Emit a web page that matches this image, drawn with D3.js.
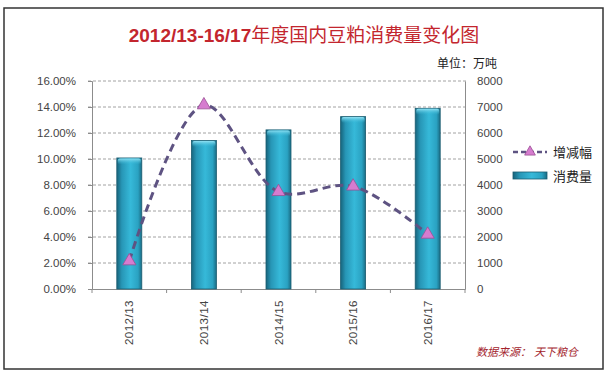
<!DOCTYPE html>
<html>
<head>
<meta charset="utf-8">
<script src="https://cdn.jsdelivr.net/npm/d3@7/dist/d3.min.js"></script>
<style>
  body { margin: 0; background: #fff; }
  svg text { font-family: "Liberation Sans", Arial, "Noto Sans CJK SC", sans-serif; }
</style>
</head>
<body>
<div id="chart"></div>
<script>
// data
var seasons = ["2012/13", "2013/14", "2014/15", "2015/16", "2016/17"];
var consumption = [5040, 5710, 6120, 6630, 6950];   // 万吨
var changeRate = [0.0215, 0.1415, 0.0748, 0.079, 0.042];
var leftTicks = [0, 0.02, 0.04, 0.06, 0.08, 0.10, 0.12, 0.14, 0.16];
var rightTicks = [0, 1000, 2000, 3000, 4000, 5000, 6000, 7000, 8000];

var W = 608, H = 376;
var margin = {top: 81, left: 92, right: 143, bottom: 87};
var width = W - margin.left - margin.right,
    height = H - margin.top - margin.bottom;

var svg = d3.select("#chart").append("svg")
    .attr("width", W)
    .attr("height", H);

// frame
svg.append("rect")
    .attr("x", 4).attr("y", 8)
    .attr("width", 599).attr("height", 361)
    .attr("fill", "#fff")
    .attr("stroke", "#333")
    .attr("stroke-width", 1.5);

var defs = svg.append("defs");
var grad = defs.append("linearGradient").attr("id", "barGrad")
    .attr("x1", "0%").attr("x2", "100%").attr("y1", "0%").attr("y2", "0%");
grad.append("stop").attr("offset", "0%").attr("stop-color", "#17647c");
grad.append("stop").attr("offset", "20%").attr("stop-color", "#2796b6");
grad.append("stop").attr("offset", "55%").attr("stop-color", "#36b9d9");
grad.append("stop").attr("offset", "85%").attr("stop-color", "#2aa2c2");
grad.append("stop").attr("offset", "100%").attr("stop-color", "#1a6c84");

var capGrad = defs.append("linearGradient").attr("id", "capGrad")
    .attr("x1", "0%").attr("x2", "0%").attr("y1", "0%").attr("y2", "100%");
capGrad.append("stop").attr("offset", "0%").attr("stop-color", "#8fe0f2");
capGrad.append("stop").attr("offset", "100%").attr("stop-color", "#36b9d9").attr("stop-opacity", 0);

// title: digits bold, Chinese regular
var title = svg.append("text")
    .attr("x", 304).attr("y", 42)
    .attr("text-anchor", "middle")
    .attr("fill", "#c3262e")
    .style("font-size", "19px");
title.append("tspan").style("font-weight", "bold").text("2012/13-16/17");
title.append("tspan").text("年度国内豆粕消费量变化图");

svg.append("text")
    .attr("x", 437).attr("y", 68)
    .attr("fill", "#222")
    .style("font-size", "12px")
    .text("单位：万吨");

var g = svg.append("g")
    .attr("transform", "translate(" + margin.left + "," + margin.top + ")");

var x = d3.scaleBand().domain(seasons).range([0, width]);
var yL = d3.scaleLinear().domain([0, 0.16]).range([height, 0]);
var yR = d3.scaleLinear().domain([0, 8000]).range([height, 0]);

// gridlines
g.selectAll(".grid")
    .data(leftTicks.slice(1))
    .enter().append("line")
    .attr("class", "grid")
    .attr("x1", -4).attr("x2", width + 2)
    .attr("y1", function(d){ return yL(d); })
    .attr("y2", function(d){ return yL(d); })
    .attr("stroke", "#8a8a8a")
    .attr("stroke-width", 0.8)
    .attr("stroke-dasharray", "3,2");

// axes
var leftAxis = d3.axisLeft(yL).tickValues(leftTicks)
    .tickFormat(function(d){ return (d * 100).toFixed(2) + "%"; })
    .tickSize(4).tickPadding(12);
var rightAxis = d3.axisRight(yR).tickValues(rightTicks)
    .tickFormat(d3.format("d"))
    .tickSize(0).tickPadding(12);
var bottomAxis = d3.axisBottom(x).tickSize(0).tickPadding(10);

function styleAxis(sel){
    sel.select(".domain").attr("stroke", "#8c8c8c");
    sel.selectAll(".tick line").attr("stroke", "#8c8c8c");
    sel.selectAll("text").attr("fill", "#444").style("font-size", "11.5px");
}

g.append("g").call(leftAxis).call(styleAxis);
g.append("g").attr("transform", "translate(" + width + ",0)")
    .call(rightAxis).call(styleAxis);

var xg = g.append("g").attr("transform", "translate(0," + height + ")")
    .call(bottomAxis).call(styleAxis);
xg.selectAll(".tick text")
    .attr("transform", "rotate(-90)")
    .attr("text-anchor", "end")
    .attr("x", -11).attr("y", 0).attr("dy", "0.35em")
    .style("letter-spacing", "0.5px");

// boundary ticks on x axis
g.selectAll(".xb")
    .data(seasons.concat(["end"]))
    .enter().append("line")
    .attr("x1", function(d, i){ return x.step() * i; })
    .attr("x2", function(d, i){ return x.step() * i; })
    .attr("y1", height).attr("y2", height + 4)
    .attr("stroke", "#8c8c8c");

// bars
var barW = 25;
var bars = g.selectAll(".bar")
    .data(seasons)
    .enter().append("g").attr("class", "bar");

bars.append("rect")
    .attr("x", function(d){ return x(d) + x.bandwidth() / 2 - barW / 2; })
    .attr("y", function(d, i){ return yR(consumption[i]); })
    .attr("width", barW)
    .attr("height", function(d, i){ return height - yR(consumption[i]); })
    .attr("fill", "url(#barGrad)")
    .attr("stroke", "#1b5c70")
    .attr("stroke-width", 0.8);

bars.append("rect")
    .attr("x", function(d){ return x(d) + x.bandwidth() / 2 - barW / 2 + 1; })
    .attr("y", function(d, i){ return yR(consumption[i]) + 0.5; })
    .attr("width", barW - 2)
    .attr("height", 6)
    .attr("rx", 2)
    .attr("fill", "url(#capGrad)");

// change rate line
var line = d3.line()
    .x(function(d, i){ return x(seasons[i]) + x.bandwidth() / 2; })
    .y(function(d){ return yL(d); })
    .curve(d3.curveCatmullRom.alpha(0.5));

g.append("path")
    .datum(changeRate)
    .attr("d", line)
    .attr("fill", "none")
    .attr("stroke", "#5e5382")
    .attr("stroke-width", 3)
    .attr("stroke-dasharray", "8,5");

var tri = d3.symbol().type(d3.symbolTriangle).size(75);
g.selectAll(".pt")
    .data(changeRate)
    .enter().append("path")
    .attr("class", "pt")
    .attr("d", tri)
    .attr("transform", function(d, i){
        return "translate(" + (x(seasons[i]) + x.bandwidth() / 2) + "," + yL(d) + ")";
    })
    .attr("fill", "#d67ccf")
    .attr("stroke", "#9a4f94")
    .attr("stroke-width", 0.8);

// legend
var lg = svg.append("g").attr("transform", "translate(513,152)");
lg.append("line")
    .attr("x1", 0).attr("x2", 34).attr("y1", 0).attr("y2", 0)
    .attr("stroke", "#5e5382").attr("stroke-width", 2.5)
    .attr("stroke-dasharray", "5,3");
lg.append("path")
    .attr("d", d3.symbol().type(d3.symbolTriangle).size(50))
    .attr("transform", "translate(17,0)")
    .attr("fill", "#d67ccf").attr("stroke", "#9a4f94").attr("stroke-width", 0.8);
lg.append("text").attr("x", 40).attr("y", 0).attr("dy", "0.35em")
    .style("font-size", "13px").attr("fill", "#222").text("增减幅");

lg.append("rect")
    .attr("x", 0).attr("y", 20).attr("width", 34).attr("height", 7)
    .attr("fill", "url(#barGrad)").attr("stroke", "#1b5c70").attr("stroke-width", 0.8);
lg.append("text").attr("x", 40).attr("y", 24).attr("dy", "0.35em")
    .style("font-size", "13px").attr("fill", "#222").text("消费量");

// source
svg.append("text")
    .attr("x", 578).attr("y", 356)
    .attr("text-anchor", "end")
    .attr("fill", "#a3232c")
    .style("font-size", "11px")
    .style("font-style", "italic")
    .text("数据来源：  天下粮仓");
</script>
</body>
</html>
